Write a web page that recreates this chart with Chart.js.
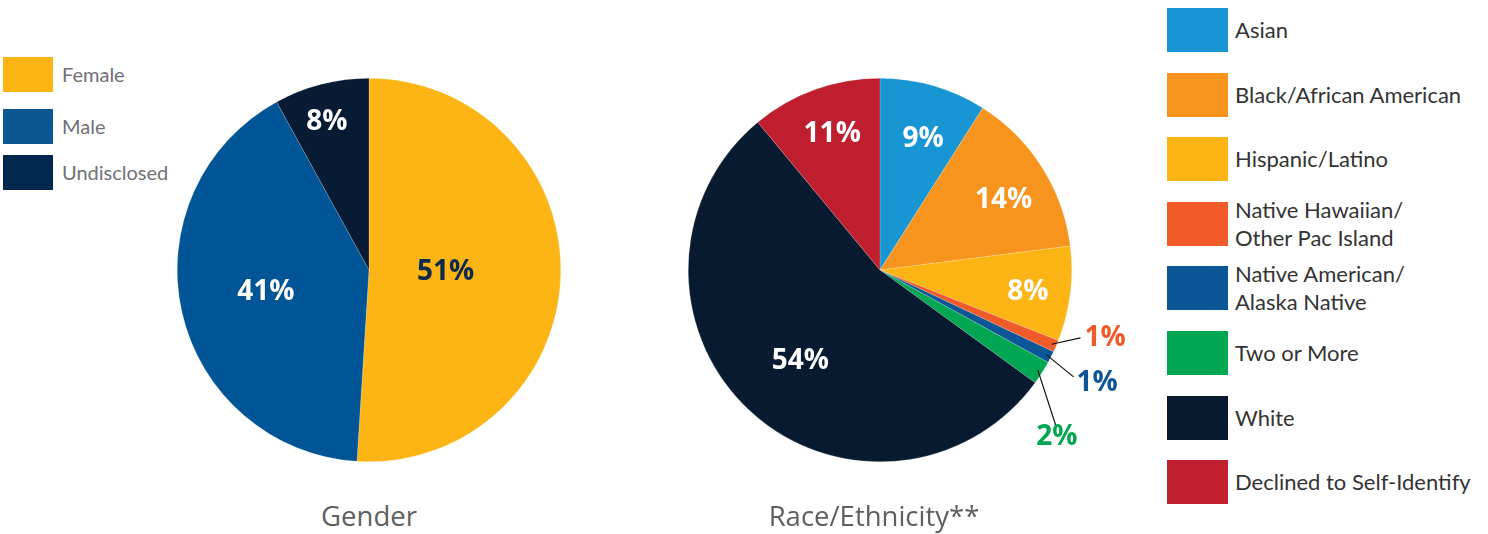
<!DOCTYPE html>
<html>
<head>
<meta charset="utf-8">
<script src="https://cdn.jsdelivr.net/npm/chart.js@4/dist/chart.umd.min.js"></script>
<style>
  html, body { margin: 0; padding: 0; background: #fff; }
  #wrap { position: relative; width: 1488px; height: 534px; overflow: hidden; }
  canvas { position: absolute; }
  .leg { position: absolute; display: flex; align-items: center; }
  .sw { flex: none; }
  .title { position: absolute; font-family: "Open Sans", sans-serif; font-size: 27.5px; color: #5f5f5f; transform: translateX(-50%); white-space: nowrap; }
</style>
</head>
<body>
<div id="wrap">
  <canvas id="g" width="400" height="400" style="left:169px;top:70px;"></canvas>
  <canvas id="r" width="520" height="480" style="left:640px;top:30px;"></canvas>
  <div class="title" style="left:369px;top:497px;">Gender</div>
  <div class="title" style="left:874px;top:497px;">Race/Ethnicity**</div>
</div>
<script>
// ---- Data ----
const genderLabels = ["Female", "Male", "Undisclosed"];
const genderValues = [51, 41, 8];
const genderColors = ["#FDB515", "#005596", "#071B35"];
const genderLegendColors = ["#FDB515", "#0A5796", "#03284F"];

const raceLabels = ["Asian", "Black/African American", "Hispanic/Latino", "Native Hawaiian/\nOther Pac Island", "Native American/\nAlaska Native", "Two or More", "White", "Declined to Self-Identify"];
const raceValues = [9, 14, 8, 1, 1, 2, 54, 11];
const raceColors = ["#1896D3", "#F7941D", "#FDB515", "#F15A29", "#0B5697", "#00A651", "#071A30", "#BE1E2D"];

// ---- Label plugin ----
const sliceLabels = {
  id: 'sliceLabels',
  afterDatasetsDraw(chart, args, opts) {
    const ctx = chart.ctx;
    const meta = chart.getDatasetMeta(0);
    const vals = chart.data.datasets[0].data;
    meta.data.forEach((arc, i) => {
      const p = opts.place[i];
      const cx = arc.x, cy = arc.y, R = arc.outerRadius;
      const mid = (arc.startAngle + arc.endAngle) / 2;
      const txt = vals[i] + '%';
      ctx.save();
      ctx.font = opts.font;
      ctx.fillStyle = opts.colors[i];
      if (p.callout) {
        const c = p.callout;
        const sx = cx + Math.cos(mid) * R * 0.975, sy = cy + Math.sin(mid) * R * 0.975;
        const ea = mid + c.dAngle * Math.PI / 180;
        const ex = cx + Math.cos(ea) * R * c.r, ey = cy + Math.sin(ea) * R * c.r;
        ctx.strokeStyle = '#111';
        ctx.lineWidth = 1.2;
        ctx.beginPath(); ctx.moveTo(sx, sy); ctx.lineTo(ex, ey); ctx.stroke();
        ctx.textAlign = c.align;
        ctx.textBaseline = 'middle';
        ctx.fillText(txt, ex + c.dx, ey + c.dy);
      } else {
        const a = mid + (p.dAngle || 0) * Math.PI / 180;
        ctx.textAlign = 'center';
        ctx.textBaseline = 'middle';
        ctx.fillText(txt, cx + Math.cos(a) * R * p.r, cy + Math.sin(a) * R * p.r);
      }
      ctx.restore();
    });
  }
};

const LABEL_FONT = 'bold 28px "Open Sans", sans-serif';

function pie(id, labels, values, colors, padding, place, labelColors) {
  return new Chart(document.getElementById(id), {
    type: 'pie',
    data: { labels, datasets: [{ data: values, backgroundColor: colors, borderColor: 'rgba(255,255,255,0.35)', borderWidth: 0.5, hoverOffset: 0 }] },
    options: {
      responsive: false, animation: false,
      layout: { padding },
      plugins: {
        legend: { display: false }, tooltip: { enabled: false },
        sliceLabels: { place, colors: labelColors, font: LABEL_FONT }
      }
    },
    plugins: [sliceLabels]
  });
}

pie('g', genderLabels, genderValues, genderColors, 8,
  [{ r: 0.40 }, { r: 0.55, dAngle: 0.5 }, { r: 0.80, dAngle: -1.5 }],
  ['#0B2A4D', '#ffffff', '#ffffff']);

pie('r', raceLabels, raceValues, raceColors, { left: 48, right: 88, top: 48, bottom: 48 },
  [
    { r: 0.72, dAngle: 2 },
    { r: 0.74, dAngle: 3 },
    { r: 0.78, dAngle: 1.3 },
    { callout: { dAngle: -4.7, r: 1.104, align: 'left', dx: 4, dy: 0 } },
    { callout: { dAngle: 1.9, r: 1.153, align: 'left', dx: 3, dy: 6 } },
    { callout: { dAngle: 9.1, r: 1.224, align: 'center', dx: 1, dy: 12 } },
    { r: 0.63, dAngle: -2 },
    { r: 0.75, dAngle: 0.4 }
  ],
  ['#fff', '#fff', '#fff', '#F15A29', '#0B5697', '#00A651', '#fff', '#fff']);

// ---- HTML legends built from the arrays ----
const wrap = document.getElementById('wrap');
function legend(labels, colors, x, y0, step, sw, sh, font, color, gap) {
  labels.forEach((l, i) => {
    const d = document.createElement('div');
    d.className = 'leg';
    d.style.left = x + 'px';
    d.style.top = (y0 + step[i]) + 'px';
    d.style.height = sh + 'px';
    const s = document.createElement('div');
    s.className = 'sw';
    s.style.width = sw + 'px'; s.style.height = sh + 'px'; s.style.background = colors[i];
    s.style.marginRight = gap + 'px';
    const t = document.createElement('div');
    t.style.font = font; t.style.color = color; t.style.whiteSpace = 'pre'; t.style.lineHeight = '1.27';
    t.textContent = l;
    d.appendChild(s); d.appendChild(t);
    wrap.appendChild(d);
  });
}
legend(genderLabels, genderLegendColors, 3, 57, [0, 52, 98], 50, 35, '20px Lato, sans-serif', '#707174', 9);
legend(raceLabels, raceColors, 1167, 8, [0, 64.5, 129, 193.5, 258, 323, 387.5, 452], 61, 44, '22px Lato, sans-serif', '#333', 7);
</script>
</body>
</html>
